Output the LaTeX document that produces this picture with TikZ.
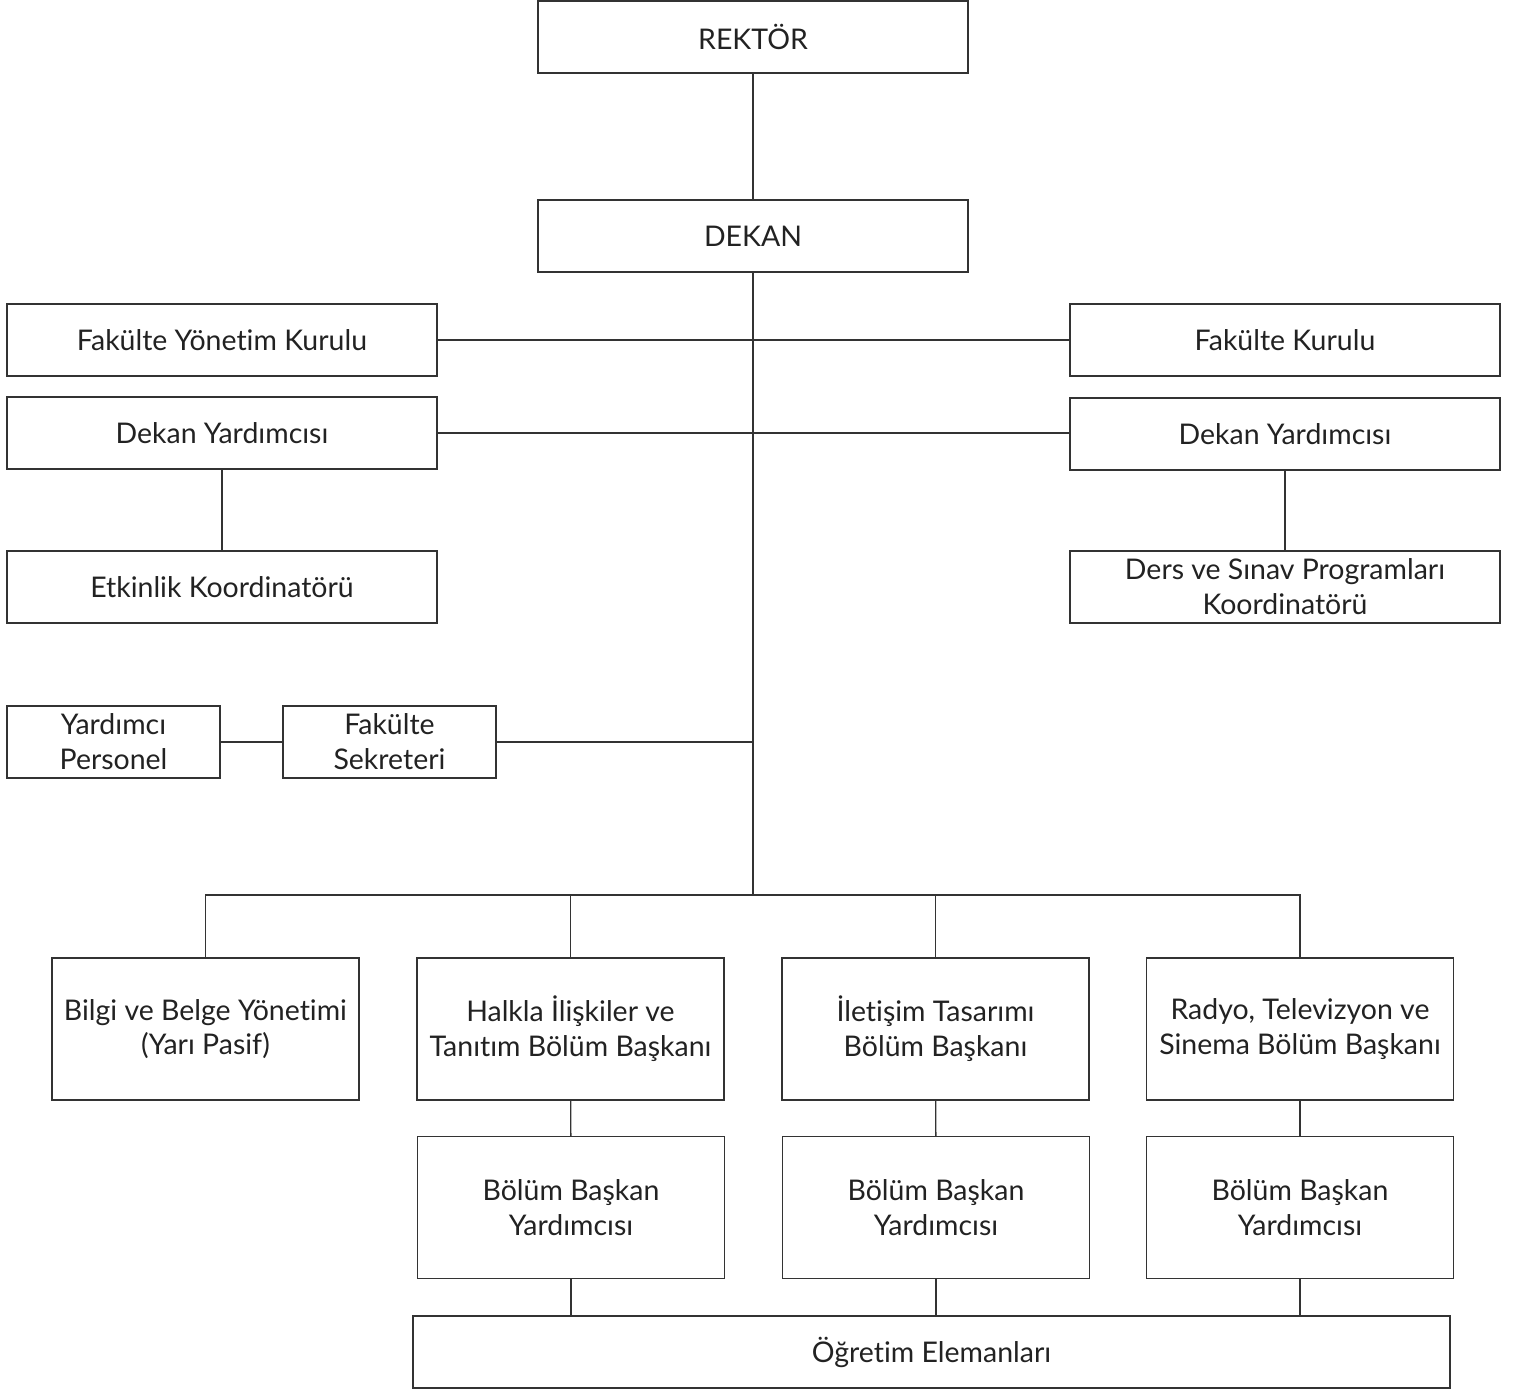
\documentclass[tikz,border=0pt]{standalone}
\usepackage{fontspec}
\setmainfont{Lato}[Ligatures=NoCommon]
\usetikzlibrary{positioning,calc}
\definecolor{linegray}{HTML}{333333}
\definecolor{textgray}{HTML}{222222}

\begin{document}
\begin{tikzpicture}[x=0.02cm,y=-0.02cm,
        box/.style={draw=linegray, line width=0.8pt, text=textgray, align=center,
            font=\fontsize{16.2}{19.8}\selectfont, inner sep=0pt},
        widebox/.style={box, minimum width=8.6cm, minimum height=1.44cm},
        smallbox/.style={box, minimum width=4.26cm, minimum height=1.44cm},
        deptbox/.style={box, minimum width=6.14cm, minimum height=2.84cm},
        link/.style={draw=linegray, line width=0.8pt}]
        \useasboundingbox (0,0) rectangle (1519,1389);
        % top
        \node[widebox] (rektor) at (753,37) {REKTÖR};
        \node[widebox] (dekan) at (753,236) {DEKAN};
        % left and right columns
        \node[widebox] (fyk) at (222,340) {Fakülte Yönetim Kurulu};
        \node[widebox] (fk) at (1285,340) {Fakülte Kurulu};
        \node[widebox] (dyl) at (222,433) {Dekan Yardımcısı};
        \node[widebox] (dyr) at (1285,434) {Dekan Yardımcısı};
        \node[widebox] (etk) at (222,587) {Etkinlik Koordinatörü};
        \node[widebox] (dsp) at (1285,587) {Ders ve Sınav Programları\\Koordinatörü};
        \node[smallbox] (yp) at (113.5,742) {Yardımcı\\Personel};
        \node[smallbox] (fs) at (389.5,742) {Fakülte\\Sekreteri};
        % departments
        \node[deptbox] (bby) at (205.5,1029) {Bilgi ve Belge Yönetimi\\(Yarı Pasif)};
        \node[deptbox] (hit) at (570.5,1029) {Halkla İlişkiler ve\\Tanıtım Bölüm Başkanı};
        \node[deptbox] (itb) at (935.5,1029) {İletişim Tasarımı\\Bölüm Başkanı};
        \node[deptbox] (rtv) at (1300,1029) {Radyo, Televizyon ve\\Sinema Bölüm Başkanı};
        \node[deptbox] (yh) at (571,1207.5) {Bölüm Başkan\\Yardımcısı};
        \node[deptbox] (yi) at (936,1207.5) {Bölüm Başkan\\Yardımcısı};
        \node[deptbox] (yr) at (1300,1207.5) {Bölüm Başkan\\Yardımcısı};
        \node[box, minimum width=20.74cm, minimum height=1.44cm] (oe) at (931.5,1352) {Öğretim Elemanları};
        % connectors
        \coordinate (bus) at (753,895);
        \draw[link] (rektor) -- (dekan);
        \draw[link] (dekan) -- (bus);
        \draw[link] (fyk) -- (fk);
        \draw[link] (dyl.east) -- (dyr.west |- dyl.east);
        \draw[link] (dyl) -- (etk);
        \draw[link] (dyr) -- (dsp);
        \draw[link] (yp) -- (fs);
        \draw[link] (fs.east) -- (fs.east -| bus);
        \draw[link] (bby.north) |- (bus) -| (rtv.north);
        \draw[link] (hit.north) -- (hit.north |- bus);
        \draw[link] (itb.north) -- (itb.north |- bus);
        \draw[link] (hit) -- (yh);
        \draw[link] (itb) -- (yi);
        \draw[link] (rtv) -- (yr);
        \draw[link] (yh.south) -- (yh.south |- oe.north);
        \draw[link] (yi.south) -- (yi.south |- oe.north);
        \draw[link] (yr.south) -- (yr.south |- oe.north);
\end{tikzpicture}
\end{document}
